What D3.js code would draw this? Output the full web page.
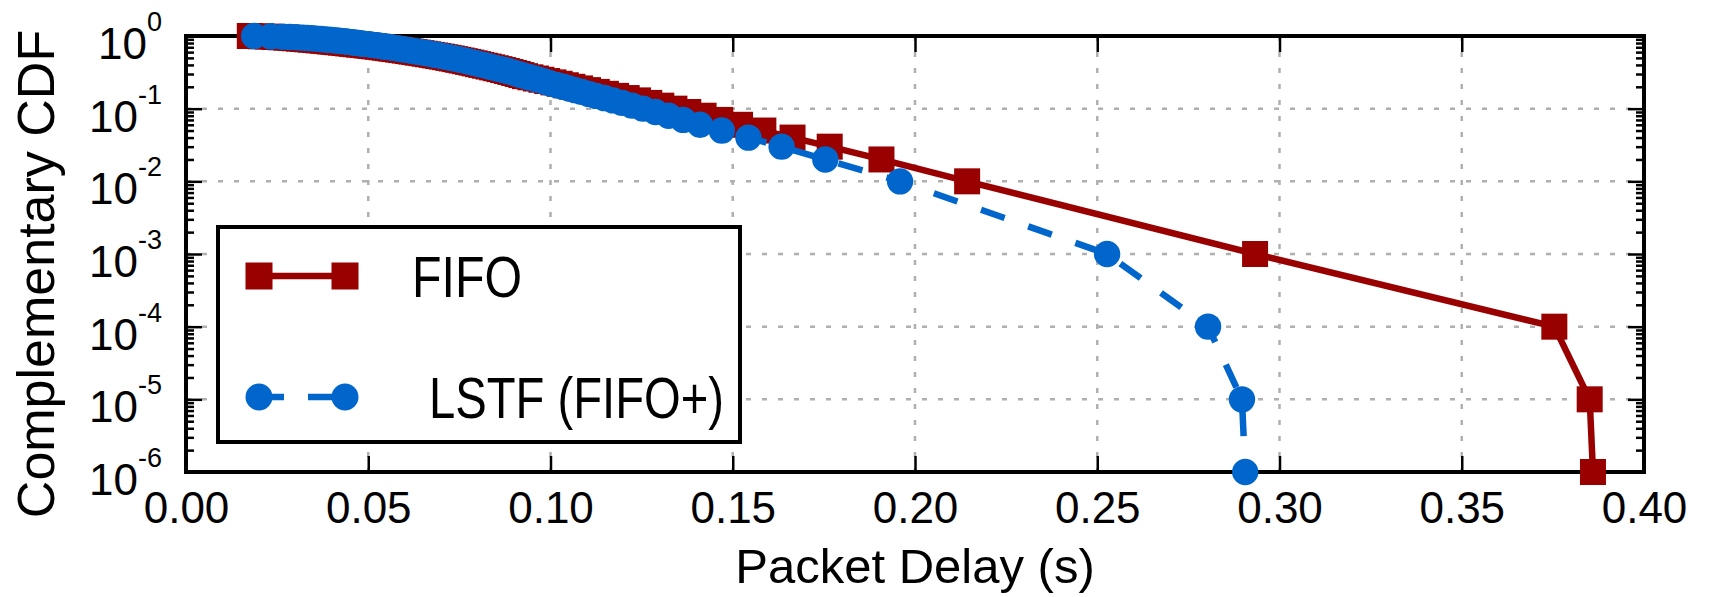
<!DOCTYPE html>
<html>
<head>
<meta charset="utf-8">
<script src="https://cdn.jsdelivr.net/npm/d3@7"></script>
<style>
  html, body { margin: 0; padding: 0; background: #fff; }
  text { font-family: "Liberation Sans", Arial, sans-serif; fill: #000; }
</style>
</head>
<body>
<div id="chart"></div>
<script>
//CCDF levels where each marker sits (shared by both series)
const levels = [
    1.00, 0.99, 0.98, 0.97, 0.96, 0.95, 0.94, 0.93, 0.92, 0.91,
    0.90, 0.89, 0.88, 0.87, 0.86, 0.85, 0.84, 0.83, 0.82, 0.81,
    0.80, 0.79, 0.78, 0.77, 0.76, 0.75, 0.74, 0.73, 0.72, 0.71,
    0.70, 0.69, 0.68, 0.67, 0.66, 0.65, 0.64, 0.63, 0.62, 0.61,
    0.60, 0.59, 0.58, 0.57, 0.56, 0.55, 0.54, 0.53, 0.52, 0.51,
    0.50, 0.49, 0.48, 0.47, 0.46, 0.45, 0.44, 0.43, 0.42, 0.41,
    0.40, 0.39, 0.38, 0.37, 0.36, 0.35, 0.34, 0.33, 0.32, 0.31,
    0.30, 0.29, 0.28, 0.27, 0.26, 0.25, 0.24, 0.23, 0.22, 0.21,
    0.20, 0.19, 0.18, 0.17, 0.16, 0.15, 0.14, 0.13, 0.12, 0.11,
    0.10, 0.09, 0.08, 0.07, 0.06, 0.05, 0.04, 0.03, 0.02, 0.01,
    1e-3, 1e-4, 1e-5, 1e-6
];

//Packet delay (s) for FIFO at each level
const fifoDelay = [
    0.0175, 0.0205, 0.0225, 0.0243, 0.0260, 0.0275, 0.0287, 0.0299, 0.0310, 0.0321,
    0.0332, 0.0343, 0.0354, 0.0364, 0.0375, 0.0385, 0.0395, 0.0405, 0.0415, 0.0425,
    0.0435, 0.0445, 0.0455, 0.0465, 0.0475, 0.0485, 0.0496, 0.0506, 0.0516, 0.0526,
    0.0536, 0.0545, 0.0554, 0.0563, 0.0572, 0.0582, 0.0591, 0.0600, 0.0609, 0.0618,
    0.0627, 0.0636, 0.0646, 0.0655, 0.0664, 0.0674, 0.0683, 0.0692, 0.0702, 0.0711,
    0.0720, 0.0729, 0.0738, 0.0747, 0.0756, 0.0765, 0.0774, 0.0783, 0.0792, 0.0801,
    0.0810, 0.0820, 0.0830, 0.0840, 0.0850, 0.0860, 0.0870, 0.0880, 0.0890, 0.0900,
    0.0910, 0.0920, 0.0930, 0.0945, 0.0960, 0.0975, 0.0991, 0.1008, 0.1025, 0.1042,
    0.1060, 0.1081, 0.1103, 0.1127, 0.1152, 0.1180, 0.1209, 0.1240, 0.1271, 0.1304,
    0.1340, 0.1378, 0.1420, 0.1466, 0.1520, 0.1584, 0.1664, 0.1766, 0.1908, 0.2143,
    0.2933, 0.3754, 0.3851, 0.3860
];

//Packet delay (s) for LSTF (FIFO+) at each level
const lstfDelay = [
    0.0187, 0.0233, 0.0265, 0.0285, 0.0303, 0.0320, 0.0333, 0.0345, 0.0357, 0.0369,
    0.0380, 0.0390, 0.0400, 0.0410, 0.0420, 0.0430, 0.0439, 0.0447, 0.0456, 0.0464,
    0.0472, 0.0481, 0.0490, 0.0500, 0.0509, 0.0517, 0.0526, 0.0534, 0.0543, 0.0551,
    0.0560, 0.0568, 0.0577, 0.0585, 0.0594, 0.0602, 0.0611, 0.0619, 0.0628, 0.0636,
    0.0645, 0.0653, 0.0662, 0.0670, 0.0679, 0.0687, 0.0696, 0.0704, 0.0713, 0.0721,
    0.0730, 0.0738, 0.0747, 0.0755, 0.0764, 0.0772, 0.0781, 0.0789, 0.0798, 0.0806,
    0.0815, 0.0824, 0.0833, 0.0842, 0.0852, 0.0862, 0.0872, 0.0882, 0.0892, 0.0901,
    0.0910, 0.0921, 0.0932, 0.0943, 0.0955, 0.0967, 0.0979, 0.0991, 0.1002, 0.1018,
    0.1035, 0.1051, 0.1068, 0.1086, 0.1105, 0.1125, 0.1148, 0.1172, 0.1197, 0.1224,
    0.1254, 0.1288, 0.1324, 0.1364, 0.1410, 0.1470, 0.1543, 0.1634, 0.1754, 0.1959,
    0.2527, 0.2804, 0.2897, 0.2906
];

//Tick values and labels
const xTicks = [0, 0.05, 0.10, 0.15, 0.20, 0.25, 0.30, 0.35, 0.40];
const yTicks = [1, 1e-1, 1e-2, 1e-3, 1e-4, 1e-5, 1e-6];
const yTickExp = ["0", "-1", "-2", "-3", "-4", "-5", "-6"];

//Series names for the legend
const seriesNames = ["FIFO", "LSTF (FIFO+)"];

//SVG size and plot box
const svgWidth = 1711;
const svgHeight = 597;
const plot = { left: 186, right: 1644, top: 36, bottom: 472 };

const red = "#990000";
const blue = "#0066cc";

let svg = d3.select("#chart")
    .append("svg")
    .attr("width", svgWidth)
    .attr("height", svgHeight);

//Scales
const xScale = d3.scaleLinear()
    .domain([0, 0.40])
    .range([plot.left, plot.right]);

const yScale = d3.scaleLog()
    .domain([1e-6, 1])
    .range([plot.bottom, plot.top]);

//Grid lines (dotted gray)
const grid = svg.append("g");
grid.selectAll(".vgrid")
    .data(xTicks.slice(1, -1))
    .enter()
    .append("line")
    .attr("x1", d => xScale(d))
    .attr("x2", d => xScale(d))
    .attr("y1", plot.top)
    .attr("y2", plot.bottom)
    .attr("stroke", "#b0b0b0")
    .attr("stroke-width", 2.5)
    .attr("stroke-dasharray", "5,11");

grid.selectAll(".hgrid")
    .data(yTicks.slice(1, -1))
    .enter()
    .append("line")
    .attr("x1", plot.left)
    .attr("x2", plot.right)
    .attr("y1", d => yScale(d))
    .attr("y2", d => yScale(d))
    .attr("stroke", "#b0b0b0")
    .attr("stroke-width", 2.5)
    .attr("stroke-dasharray", "5,11");

//Axes with inward ticks on all four sides
const minorTicks = yScale.ticks().filter(d => !yTicks.includes(d));

function styleAxis(g) {
    g.select(".domain").remove();
    g.selectAll(".tick line").attr("stroke", "#000").attr("stroke-width", 2.5);
}

svg.append("g")
    .attr("transform", `translate(0, ${plot.bottom})`)
    .call(d3.axisBottom(xScale).tickValues(xTicks).tickSize(-16).tickPadding(20)
        .tickFormat(d3.format(".2f")))
    .call(styleAxis)
    .call(g => g.selectAll("text").attr("font-size", 44)
        .attr("font-family", "Liberation Sans, Arial, sans-serif"));

svg.append("g")
    .attr("transform", `translate(0, ${plot.top})`)
    .call(d3.axisTop(xScale).tickValues(xTicks).tickSize(-16).tickFormat(""))
    .call(styleAxis);

[d3.axisLeft, d3.axisRight].forEach(function (axisFn, i) {
    const pos = i === 0 ? plot.left : plot.right;
    svg.append("g")
        .attr("transform", `translate(${pos}, 0)`)
        .call(axisFn(yScale).tickValues(yTicks).tickSize(-16).tickFormat(""))
        .call(styleAxis);
    svg.append("g")
        .attr("transform", `translate(${pos}, 0)`)
        .call(axisFn(yScale).tickValues(minorTicks).tickSize(-8).tickFormat(""))
        .call(styleAxis);
});

//Y tick labels as 10 with a raised exponent
let yLabels = svg.append("g")
    .selectAll("text")
    .data(yTicks)
    .enter()
    .append("text")
    .attr("x", 162)
    .attr("y", d => yScale(d) + 23)
    .attr("text-anchor", "end")
    .attr("font-size", 44)
    .text("10");

yLabels.append("tspan")
    .attr("dy", -28)
    .attr("font-size", 27)
    .text((d, i) => yTickExp[i]);

//Plot frame
svg.append("rect")
    .attr("x", plot.left)
    .attr("y", plot.top)
    .attr("width", plot.right - plot.left)
    .attr("height", plot.bottom - plot.top)
    .attr("fill", "none")
    .attr("stroke", "#000")
    .attr("stroke-width", 4);

//Series lines and markers
const fifoData = levels.map((c, i) => ({ c: c, d: fifoDelay[i] }));
const lstfData = levels.map((c, i) => ({ c: c, d: lstfDelay[i] }));

const line = d3.line()
    .x(d => xScale(d.d))
    .y(d => yScale(d.c));

svg.append("path")
    .datum(fifoData)
    .attr("d", line)
    .attr("fill", "none")
    .attr("stroke", red)
    .attr("stroke-width", 6.5)
    .attr("stroke-linejoin", "round");

svg.append("g")
    .selectAll("rect")
    .data(fifoData)
    .enter()
    .append("rect")
    .attr("x", d => xScale(d.d) - 13)
    .attr("y", d => yScale(d.c) - 13)
    .attr("width", 26)
    .attr("height", 26)
    .attr("fill", red);

svg.append("path")
    .datum(lstfData)
    .attr("d", line)
    .attr("fill", "none")
    .attr("stroke", blue)
    .attr("stroke-width", 6.5)
    .attr("stroke-dasharray", "25,25");

svg.append("g")
    .selectAll("circle")
    .data(lstfData)
    .enter()
    .append("circle")
    .attr("cx", d => xScale(d.d))
    .attr("cy", d => yScale(d.c))
    .attr("r", 13.2)
    .attr("fill", blue);

//Legend
const legend = svg.append("g");
legend.append("rect")
    .attr("x", 218)
    .attr("y", 227)
    .attr("width", 522)
    .attr("height", 215)
    .attr("fill", "#fff")
    .attr("stroke", "#000")
    .attr("stroke-width", 4);

legend.append("line")
    .attr("x1", 259).attr("x2", 345)
    .attr("y1", 276).attr("y2", 276)
    .attr("stroke", red)
    .attr("stroke-width", 6.5);

legend.selectAll(".fifoKey")
    .data([259, 345])
    .enter()
    .append("rect")
    .attr("x", d => d - 13.5)
    .attr("y", 276 - 13.5)
    .attr("width", 27)
    .attr("height", 27)
    .attr("fill", red);

legend.append("line")
    .attr("x1", 259).attr("x2", 345)
    .attr("y1", 397).attr("y2", 397)
    .attr("stroke", blue)
    .attr("stroke-width", 6.5)
    .attr("stroke-dasharray", "25,24");

legend.selectAll(".lstfKey")
    .data([259, 345])
    .enter()
    .append("circle")
    .attr("cx", d => d)
    .attr("cy", 397)
    .attr("r", 13.5)
    .attr("fill", blue);

//Legend labels squeezed to the narrow face of the original
legend.append("text")
    .attr("x", 412)
    .attr("y", 297)
    .attr("font-size", 58)
    .attr("textLength", 110)
    .attr("lengthAdjust", "spacingAndGlyphs")
    .text(seriesNames[0]);

legend.append("text")
    .attr("x", 429)
    .attr("y", 418)
    .attr("font-size", 58)
    .attr("textLength", 295)
    .attr("lengthAdjust", "spacingAndGlyphs")
    .text(seriesNames[1]);

//Axis titles
svg.append("text")
    .attr("x", (plot.left + plot.right) / 2)
    .attr("y", 583)
    .attr("text-anchor", "middle")
    .attr("font-size", 49)
    .text("Packet Delay (s)");

svg.append("text")
    .attr("transform", `translate(54, 274) rotate(-90)`)
    .attr("text-anchor", "middle")
    .attr("font-size", 52)
    .text("Complementary CDF");
</script>
</body>
</html>
